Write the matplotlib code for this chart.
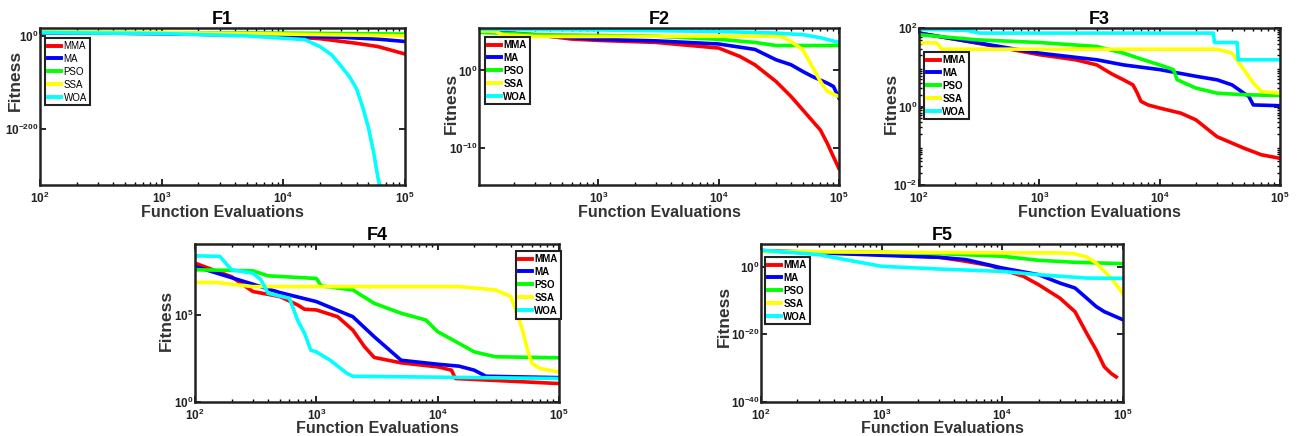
import numpy as np
import matplotlib
matplotlib.use("Agg")
import matplotlib.pyplot as plt
from matplotlib.ticker import FuncFormatter, NullLocator

plt.rcParams['font.family'] = ['Liberation Sans', 'DejaVu Sans']
plt.rcParams['mathtext.fontset'] = 'custom'
plt.rcParams['mathtext.rm'] = 'Liberation Sans:bold'
plt.rcParams['mathtext.bf'] = 'Liberation Sans:bold'
plt.rcParams['mathtext.it'] = 'Liberation Sans:bold'

# algorithms / colours
names = ['MMA', 'MA', 'PSO', 'SSA', 'WOA']
colors = ['#ff0000', '#0000ff', '#00ff00', '#ffff00', '#00ffff']

# fitness values are given as log10 exponents
# F1
f1_mma_x = [100, 1e3, 5e3, 1e4, 2e4, 4e4, 6e4, 1e5]
f1_mma_y = [8, 6, 3, 0, -5, -15, -22, -38]
f1_ma_x = [100, 1e3, 1e4, 3e4, 6e4, 1e5]
f1_ma_y = [8, 6, 1, -2, -6, -11]
f1_pso_x = [100, 1e3, 1e4, 1e5]
f1_pso_y = [9, 8, 7, 5]
f1_ssa_x = [100, 1e3, 1e4, 1e5]
f1_ssa_y = [9, 8, 5, 1]
f1_woa_x = [100, 1e3, 5e3, 1.5e4, 2e4, 2.5e4, 3e4, 3.5e4, 4e4, 4.5e4, 5e4, 5.5e4, 6e4, 6.2e4]
f1_woa_y = [8, 6, 1, -7, -22, -40, -65, -87, -113, -153, -196, -247, -305, -320]

# F2
f2_mma_x = [100, 300, 600, 1e3, 3e3, 1e4, 1.5e4, 2e4, 3e4, 4e4, 5e4, 7e4, 8e4, 9e4, 1e5]
f2_mma_y = [5.1, 4.6, 4.03, 3.86, 3.6, 2.88, 1.8, 0.73, -1.42, -3.35, -5.06, -7.64, -9.36, -11.1, -12.6]
f2_ma_x = [100, 300, 1e3, 3e3, 1e4, 2e4, 3e4, 4e4, 5e4, 6e4, 8e4, 9e4, 1e5]
f2_ma_y = [5.1, 4.5, 4.0, 3.8, 3.4, 2.7, 1.37, 0.73, -0.13, -0.77, -1.63, -2.06, -3.56]
f2_pso_x = [100, 300, 3e3, 1e4, 2e4, 3e4, 1e5]
f2_pso_y = [4.9, 4.6, 4.4, 4.0, 3.6, 3.2, 3.2]
f2_ssa_x = [100, 140, 160, 300, 3e4, 3.5e4, 4e4, 5e4, 6e4, 7e4, 8e4, 1e5]
f2_ssa_y = [5.1, 5.0, 4.6, 4.35, 4.4, 4.2, 3.7, 2.66, 0.5, -1.4, -2.7, -3.35]
f2_woa_x = [100, 1e3, 1e4, 3e4, 5e4, 7e4, 1e5]
f2_woa_y = [5.3, 5.2, 5.0, 4.8, 4.6, 4.2, 3.6]

# F3
f3_mma_x = [100, 300, 1e3, 2e3, 3e3, 4e3, 5e3, 6e3, 6.5e3, 7e3, 8e3, 1e4, 1.5e4, 2e4, 3e4, 5e4, 7e4, 1e5]
f3_mma_y = [1.87, 1.62, 1.32, 1.19, 1.06, 0.83, 0.68, 0.55, 0.35, 0.13, 0.04, -0.04, -0.17, -0.34, -0.77, -1.06, -1.23, -1.32]
f3_ma_x = [100, 1e3, 3e3, 5e3, 1e4, 2e4, 3e4, 4e4, 5e4, 5.5e4, 6e4, 1e5]
f3_ma_y = [1.87, 1.36, 1.19, 1.06, 0.94, 0.77, 0.68, 0.55, 0.34, 0.26, 0.04, 0.02]
f3_pso_x = [100, 300, 1e3, 3e3, 5e3, 7e3, 1e4, 1.3e4, 1.4e4, 2e4, 3e4, 5e4, 1e5]
f3_pso_y = [1.83, 1.70, 1.63, 1.53, 1.36, 1.21, 1.06, 0.94, 0.68, 0.47, 0.34, 0.30, 0.28]
f3_ssa_x = [100, 140, 155, 3e4, 4e4, 5e4, 6e4, 7e4, 1e5]
f3_ssa_y = [1.62, 1.62, 1.46, 1.46, 1.36, 0.94, 0.60, 0.38, 0.34]
f3_woa_x = [100, 250, 320, 2.8e4, 2.85e4, 4.4e4, 4.5e4, 1e5]
f3_woa_y = [1.97, 1.94, 1.87, 1.87, 1.63, 1.63, 1.19, 1.19]

# F4
f4_mma_x = [100, 200, 300, 500, 700, 800, 1e3, 1.5e3, 2e3, 2.5e3, 3e3, 5e3, 1e4, 1.3e4, 1.4e4, 1e5]
f4_mma_y = [7.98, 7.2, 6.35, 6.06, 5.58, 5.33, 5.29, 4.9, 4.13, 3.17, 2.56, 2.25, 2.02, 1.83, 1.35, 1.06]
f4_ma_x = [100, 300, 500, 1e3, 2e3, 3e3, 5e3, 1e4, 1.5e4, 2e4, 2.5e4, 1e5]
f4_ma_y = [7.79, 6.77, 6.29, 5.77, 4.9, 3.75, 2.4, 2.17, 2.06, 1.83, 1.48, 1.4]
f4_pso_x = [100, 300, 400, 1e3, 1.1e3, 2e3, 3e3, 5e3, 8e3, 1e4, 1.5e4, 2e4, 3e4, 1e5]
f4_pso_y = [7.6, 7.54, 7.25, 7.1, 6.67, 6.44, 5.67, 5.1, 4.71, 4.04, 3.37, 2.88, 2.6, 2.54]
f4_ssa_x = [100, 150, 300, 1.5e4, 3e4, 4e4, 4.5e4, 5e4, 5.5e4, 6e4, 7e4, 1e5]
f4_ssa_y = [6.87, 6.87, 6.63, 6.63, 6.44, 6.06, 5.1, 4.13, 2.98, 2.21, 1.92, 1.73]
f4_woa_x = [100, 160, 200, 300, 350, 400, 600, 700, 800, 900, 1e3, 1.3e3, 1.8e3, 2e3, 1e5]
f4_woa_y = [8.4, 8.37, 7.6, 7.4, 7.02, 6.25, 5.96, 4.71, 3.94, 2.98, 2.88, 2.4, 1.63, 1.48, 1.35]

# F5
f5_mma_x = [100, 1e3, 3e3, 5e3, 8e3, 1e4, 1.5e4, 2e4, 3e4, 4e4, 5e4, 6e4, 7e4, 8e4, 8.8e4]
f5_mma_y = [4.75, 3.56, 2.77, 1.58, 0.3, -0.9, -2.87, -5.35, -9.3, -13.3, -19.7, -24.65, -29.6, -31.6, -32.6]
f5_ma_x = [100, 1e3, 3e3, 5e3, 1e4, 2e4, 3e4, 4e4, 5e4, 6e4, 7e4, 1e5]
f5_ma_y = [4.75, 3.37, 2.77, 2.08, -0.4, -2.38, -4.85, -6.3, -9.3, -11.8, -13.3, -15.7]
f5_pso_x = [100, 1e3, 3e3, 1e4, 2e4, 4e4, 1e5]
f5_pso_y = [4.55, 4.26, 3.86, 3.07, 1.88, 1.29, 0.89]
f5_ssa_x = [100, 1e3, 1e4, 3e4, 4e4, 5e4, 6e4, 7e4, 8e4, 1e5]
f5_ssa_y = [4.55, 4.26, 4.06, 4.06, 3.76, 2.87, 1.09, -1.4, -3.37, -8.0]
f5_woa_x = [100, 300, 500, 1e3, 3e3, 1e4, 2e4, 5e4, 1e5]
f5_woa_y = [4.85, 3.56, 2.08, 0.1, -0.7, -1.4, -2.38, -3.37, -3.46]

W, H = 1302, 436
fig = plt.figure(figsize=(W / 100, H / 100), dpi=100)


def box(x0, y0, x1, y1):
    return [x0 / W, 1 - y1 / H, (x1 - x0) / W, (y1 - y0) / H]


def sci(v, pos):
    e = int(round(np.log10(v)))
    return r'$\mathbf{10^{%d}}$' % e


# title, axes box, xlim, ylim, y ticks, legend corner, bold legend, xlabel top, ylabel (right, centre)
panels = [
    ('F1', box(40, 28, 405, 185), (100, 1e5), (1e-320, 1e18), [1e-200, 1e0], (45, 38), False, 205, (23, 80),
     [(f1_mma_x, f1_mma_y), (f1_ma_x, f1_ma_y), (f1_pso_x, f1_pso_y), (f1_ssa_x, f1_ssa_y), (f1_woa_x, f1_woa_y)]),
    ('F2', box(479, 28, 839, 185), (102, 1e5), (10 ** -14.7, 10 ** 5.45), [1e-10, 1e0], (485, 37), True, 205, (459, 103),
     [(f2_mma_x, f2_mma_y), (f2_ma_x, f2_ma_y), (f2_pso_x, f2_pso_y), (f2_ssa_x, f2_ssa_y), (f2_woa_x, f2_woa_y)]),
    ('F3', box(919, 28, 1280, 185), (100, 1e5), (1e-2, 1e2), [1e-2, 1e0, 1e2], (924, 52), True, 205, (899, 103),
     [(f3_mma_x, f3_mma_y), (f3_ma_x, f3_ma_y), (f3_pso_x, f3_pso_y), (f3_ssa_x, f3_ssa_y), (f3_woa_x, f3_woa_y)]),
    ('F4', box(195, 244, 559, 402), (100, 1e5), (1e0, 10 ** 9.08), [1e0, 1e5], (516, 251), True, 421, (174, 320),
     [(f4_mma_x, f4_mma_y), (f4_ma_x, f4_ma_y), (f4_pso_x, f4_pso_y), (f4_ssa_x, f4_ssa_y), (f4_woa_x, f4_woa_y)]),
    ('F5', box(761, 244, 1123, 402), (100, 1e5), (1e-40, 10 ** 6.7), [1e-40, 1e-20, 1e0], (765, 257), True, 421, (732, 316),
     [(f5_mma_x, f5_mma_y), (f5_ma_x, f5_ma_y), (f5_pso_x, f5_pso_y), (f5_ssa_x, f5_ssa_y), (f5_woa_x, f5_woa_y)]),
]

for title, pos, xl, yl, yt, legxy, legbold, xlab_y, ylab_xy, series in panels:
    ax = fig.add_axes(pos)
    for (sx, sy), name, c in zip(series, names, colors):
        ax.plot(sx, np.power(10.0, sy), color=c, lw=2.6, label=name, solid_joinstyle='round')
    ax.set_xscale('log')
    ax.set_yscale('log')
    ax.set_xticks([1e2, 1e3, 1e4, 1e5])
    ax.set_xlim(*xl)
    ax.set_yticks(yt)
    ax.set_ylim(*yl)
    ax.xaxis.set_major_formatter(FuncFormatter(sci))
    ax.yaxis.set_major_formatter(FuncFormatter(sci))
    if title != 'F3':
        ax.yaxis.set_minor_locator(NullLocator())
    ax.tick_params(which='both', direction='in', top=True, right=True, labelsize=8.5, labelcolor='#222222')
    ax.tick_params(axis='x', pad=4.5)
    ax.tick_params(axis='y', pad=1)
    ax.tick_params(which='major', length=4, width=1.2)
    ax.tick_params(which='minor', length=2, width=1)
    for s in ax.spines.values():
        s.set_linewidth(1.8)
        s.set_color('#222222')
    ax.set_title(title, fontsize=13, fontweight='bold', pad=2)
    ax.set_xlabel('Function Evaluations', fontsize=11.5, fontweight='bold', color='#333333')
    ax.xaxis.set_label_coords((pos[0] + pos[2] / 2), 1 - xlab_y / H, transform=fig.transFigure)
    ax.set_ylabel('Fitness', fontsize=12.5, fontweight='bold', color='#333333')
    ax.yaxis.set_label_coords(ylab_xy[0] / W, 1 - ylab_xy[1] / H, transform=fig.transFigure)
    leg = ax.legend(loc='upper left', bbox_to_anchor=(legxy[0] / W, 1 - legxy[1] / H),
                    bbox_transform=fig.transFigure, handlelength=1.3,
                    handletextpad=0.3, labelspacing=0.3, borderpad=0.3, borderaxespad=0,
                    fancybox=False, framealpha=1,
                    prop={'size': 7, 'weight': 'bold' if legbold else 'normal'})
    leg.get_frame().set_edgecolor('#222222')
    leg.get_frame().set_linewidth(1.5)
    for ln in leg.get_lines():
        ln.set_linewidth(2.8)

fig.savefig('out.png', dpi=100)
